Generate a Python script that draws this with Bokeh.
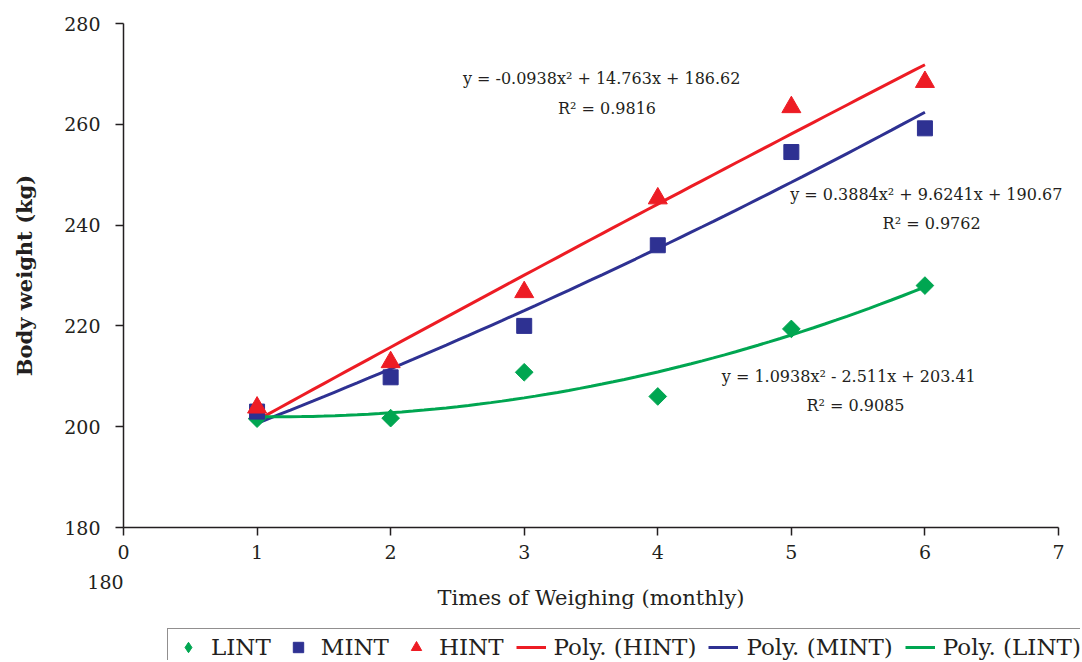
import numpy as np
from bokeh.plotting import figure
from bokeh.models import Range1d, Label, Legend, LegendItem, FixedTicker
from bokeh.embed import file_html
from bokeh.resources import INLINE

# ---- data ----
months = [1, 2, 3, 4, 5, 6]
lint = [201.6, 201.7, 210.8, 206.0, 219.4, 228.0]
mint = [203.0, 209.8, 220.0, 236.0, 254.5, 259.2]
hint = [203.8, 212.8, 226.7, 245.3, 263.4, 268.4]

# polynomial trend-line coefficients shown on the chart (a, b, c for ax^2+bx+c)
hint_coef = [-0.0938, 14.763, 186.62]
mint_coef = [0.3884, 9.6241, 190.67]
lint_coef = [1.0938, -2.511, 203.41]

hint_eq = ["y = -0.0938x\u00b2 + 14.763x + 186.62", "R\u00b2 = 0.9816"]
mint_eq = ["y = 0.3884x\u00b2 + 9.6241x + 190.67", "R\u00b2 = 0.9762"]
lint_eq = ["y = 1.0938x\u00b2 - 2.511x + 203.41", "R\u00b2 = 0.9085"]

x_ticks = [0, 1, 2, 3, 4, 5, 6, 7]
y_ticks = [180, 200, 220, 240, 260, 280]

RED = "#ED1C24"
BLUE = "#2E3192"
GREEN = "#00A651"
FONT = "DejaVu Serif"
TXT = "#231F20"

W, H = 1080, 660
# pixel geometry of the plotting area inside the canvas
X0_PX, X7_PX = 123, 1058
Y280_PX, Y180_PX = 23, 527
sx = (X7_PX - X0_PX) / 7.0
sy = (Y180_PX - Y280_PX) / 100.0
x_start = -X0_PX / sx
x_end = (W - X0_PX) / sx
y_end = 280 + Y280_PX / sy
y_start = 180 - (H - Y180_PX) / sy

p = figure(width=W, height=H, output_backend="svg", toolbar_location=None,
           x_range=Range1d(x_start, x_end), y_range=Range1d(y_start, y_end),
           min_border=0)
p.xgrid.visible = False
p.ygrid.visible = False
p.outline_line_color = None
p.background_fill_color = "white"

for ax in (p.xaxis[0], p.yaxis[0]):
    ax.axis_line_color = TXT
    ax.axis_line_width = 1.5
    ax.major_tick_line_color = TXT
    ax.major_tick_line_width = 1.5
    ax.major_tick_in = 0
    ax.major_tick_out = 8
    ax.minor_tick_line_color = None
    ax.major_label_text_font = FONT
    ax.major_label_text_font_size = "19px"
    ax.major_label_text_color = TXT
    ax.axis_label_text_font = FONT
    ax.axis_label_text_color = TXT
    ax.axis_label_text_font_style = "normal"

p.xaxis[0].fixed_location = 180
p.yaxis[0].fixed_location = 0
p.xaxis[0].bounds = (0, 7)
p.yaxis[0].bounds = (180, 280)
p.xaxis[0].ticker = FixedTicker(ticks=x_ticks)
p.yaxis[0].ticker = FixedTicker(ticks=y_ticks)
p.xaxis[0].major_label_standoff = 9
p.yaxis[0].major_label_standoff = 15
p.xaxis[0].axis_label = "Times of Weighing (monthly)"
p.xaxis[0].axis_label_text_font_size = "21px"
p.xaxis[0].axis_label_standoff = 24
p.yaxis[0].axis_label = "Body weight (kg)"
p.yaxis[0].axis_label_text_font_size = "21px"
p.yaxis[0].axis_label_text_font_style = "bold"
p.yaxis[0].axis_label_standoff = 24

# trend lines
xs = np.linspace(1, 6, 61)
r_hint_line = p.line(xs, np.polyval(hint_coef, xs), line_color=RED, line_width=3)
r_mint_line = p.line(xs, np.polyval(mint_coef, xs), line_color=BLUE, line_width=3)
r_lint_line = p.line(xs, np.polyval(lint_coef, xs), line_color=GREEN, line_width=3)

# markers
r_lint = p.scatter(months, lint, marker="square", angle=np.pi / 4, size=12.5,
                   fill_color=GREEN, line_color=GREEN)
r_mint = p.scatter(months, mint, marker="square", size=15,
                   fill_color=BLUE, line_color=BLUE)
r_hint = p.scatter(months, hint, marker="triangle", size=19,
                   fill_color=RED, line_color=RED)
# legend swatch for the diamond (legend glyphs ignore marker angle); hidden in plot
r_lint_key = p.scatter(months, lint, marker="diamond", size=12,
                       fill_color=GREEN, line_color=GREEN, visible=False)

# equations
def eq(lines, x1, y1, x2, y2):
    p.add_layout(Label(x=x1, y=y1, text=lines[0], text_align="center",
                       text_baseline="middle", text_font=FONT,
                       text_font_size="16px", text_color=TXT))
    p.add_layout(Label(x=x2, y=y2, text=lines[1], text_align="center",
                       text_baseline="middle", text_font=FONT,
                       text_font_size="16px", text_color=TXT))

eq(hint_eq, 3.58, 269.1, 3.62, 263.1)
eq(mint_eq, 6.01, 246.0, 6.05, 240.3)
eq(lint_eq, 5.43, 210.0, 5.48, 204.2)

# stray label below the axis
p.add_layout(Label(x=-0.135, y=169.1, text="180", text_align="center",
                   text_baseline="middle", text_font=FONT,
                   text_font_size="19px", text_color=TXT))

legend = Legend(items=[
    LegendItem(label="LINT", renderers=[r_lint_key]),
    LegendItem(label="MINT", renderers=[r_mint]),
    LegendItem(label="HINT", renderers=[r_hint]),
    LegendItem(label="Poly. (HINT)", renderers=[r_hint_line]),
    LegendItem(label="Poly. (MINT)", renderers=[r_mint_line]),
    LegendItem(label="Poly. (LINT)", renderers=[r_lint_line]),
], orientation="horizontal", location=(167, -6),
    border_line_color=TXT, border_line_width=1.2,
    label_text_font=FONT, label_text_font_size="23px", label_text_color=TXT,
    glyph_width=30, glyph_height=26, spacing=12, padding=5, margin=0,
    label_standoff=8, background_fill_alpha=1, inactive_fill_alpha=0)
p.add_layout(legend)

open("out.html", "w").write(file_html(p, INLINE))
